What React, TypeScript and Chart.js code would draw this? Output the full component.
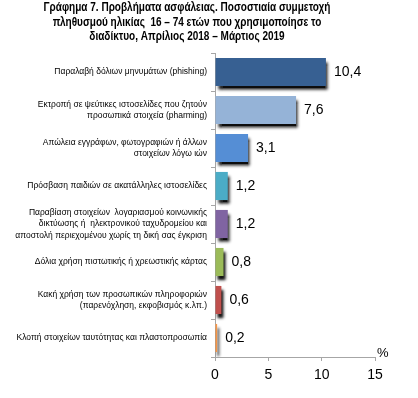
import React, { useEffect, useRef } from "react";
import { Chart, registerables } from "chart.js";

Chart.register(...registerables);

const titleLines = [
  "Γράφημα 7. Προβλήματα ασφάλειας. Ποσοστιαία συμμετοχή",
  "πληθυσμού ηλικίας  16 – 74 ετών που χρησιμοποίησε το",
  "διαδίκτυο, Απρίλιος 2018 – Μάρτιος 2019",
];

const categories: string[][] = [
  ["Παραλαβή δόλιων μηνυμάτων (phishing)"],
  ["Εκτροπή σε ψεύτικες ιστοσελίδες που ζητούν", "προσωπικά στοιχεία (pharming)"],
  ["Απώλεια εγγράφων, φωτογραφιών ή άλλων", "στοιχείων λόγω ιών"],
  ["Πρόσβαση παιδιών σε ακατάλληλες ιστοσελίδες"],
  [
    "Παραβίαση στοιχείων  λογαριασμού κοινωνικής",
    "δικτύωσης ή  ηλεκτρονικού ταχυδρομείου και",
    "αποστολή περιεχομένου χωρίς τη δική σας έγκριση",
  ],
  ["Δόλια χρήση πιστωτικής ή χρεωστικής κάρτας"],
  ["Κακή χρήση των προσωπικών πληροφοριών", "(παρενόχληση, εκφοβισμός κ.λπ.)"],
  ["Κλοπή στοιχείων ταυτότητας και πλαστοπροσωπία"],
];

const values = [10.4, 7.6, 3.1, 1.2, 1.2, 0.8, 0.6, 0.2];

const barColors = [
  "#376092",
  "#95B3D7",
  "#558ED5",
  "#4BACC6",
  "#8064A2",
  "#9BBB59",
  "#C0504D",
  "#F79646",
];

const xTicks = [0, 5, 10, 15];
const unitLabel = "%";

const FONT = "'Liberation Sans', Arial, sans-serif";

export default function App() {
  const ref = useRef<HTMLCanvasElement | null>(null);

  useEffect(() => {
    if (!ref.current) return;

    const shadowPlugin = {
      id: "barShadow",
      beforeDatasetsDraw(chart: any) {
        const ctx = chart.ctx;
        ctx.save();
        ctx.shadowColor = "rgba(0,0,0,0.95)";
        ctx.shadowBlur = 3;
        ctx.shadowOffsetX = 2;
        ctx.shadowOffsetY = 4;
      },
      afterDatasetsDraw(chart: any) {
        chart.ctx.restore();
      },
    };

    const labelsPlugin = {
      id: "valueLabels",
      afterDraw(chart: any) {
        const ctx = chart.ctx;
        const meta = chart.getDatasetMeta(0);
        ctx.save();
        ctx.fillStyle = "#000";
        ctx.font = `14px ${FONT}`;
        ctx.textAlign = "left";
        ctx.textBaseline = "middle";
        meta.data.forEach((bar: any, i: number) => {
          const txt = values[i].toFixed(1).replace(".", ",");
          ctx.fillText(txt, bar.x + 8, bar.y);
        });
        const area = chart.chartArea;
        ctx.font = `13px ${FONT}`;
        ctx.textAlign = "left";
        ctx.textBaseline = "bottom";
        ctx.fillText(unitLabel, area.right + 2, area.bottom + 3);

        // title (horizontally condensed to match the narrow original face)
        const sx = 0.835;
        ctx.save();
        ctx.scale(sx, 1);
        ctx.font = `bold 12px ${FONT}`;
        ctx.textAlign = "center";
        ctx.textBaseline = "middle";
        titleLines.forEach((line, i) => {
          ctx.fillText(line, 187 / sx, 8 + i * 14.5);
        });
        ctx.restore();
        ctx.restore();
      },
    };

    const chart = new Chart(ref.current, {
      type: "bar",
      data: {
        labels: categories,
        datasets: [
          {
            data: values,
            backgroundColor: barColors,
            borderWidth: 0,
            barPercentage: 0.74,
            categoryPercentage: 1,
          },
        ],
      },
      options: {
        indexAxis: "y",
        responsive: false,
        animation: false,
        layout: { padding: { left: 0, right: 43, top: 53, bottom: 0 } },
        plugins: {
          legend: { display: false },
          tooltip: { enabled: false },
          title: { display: false },
        },
        scales: {
          x: {
            min: 0,
            max: 15,
            afterBuildTicks(scale: any) {
              scale.ticks = xTicks.map((v) => ({ value: v }));
            },
            afterFit(scale: any) {
              scale.height = 41;
            },
            grid: {
              display: true,
              drawOnChartArea: false,
              drawTicks: true,
              tickLength: 4,
              color: "#A6A6A6",
            },
            border: { display: true, color: "#A6A6A6" },
            ticks: {
              color: "#000",
              font: { family: FONT, size: 14 },
              padding: 6,
            },
          },
          y: {
            afterFit(scale: any) {
              scale.width = 215;
            },
            grid: {
              display: true,
              offset: true,
              drawOnChartArea: false,
              drawTicks: true,
              tickLength: 4,
              color: "#A6A6A6",
            },
            border: { display: true, color: "#A6A6A6" },
            ticks: {
              color: "#000",
              font: { family: FONT, size: 8.5, lineHeight: 1.35 },
              padding: 4,
              autoSkip: false,
            },
          },
        },
      },
      plugins: [shadowPlugin, labelsPlugin],
    } as any);

    return () => chart.destroy();
  }, []);

  return (
    <div style={{ position: "absolute", left: 0, top: 0, width: 418, height: 398, background: "#fff" }}>
      <canvas ref={ref} width={418} height={398} style={{ width: 418, height: 398 }} />
    </div>
  );
}
